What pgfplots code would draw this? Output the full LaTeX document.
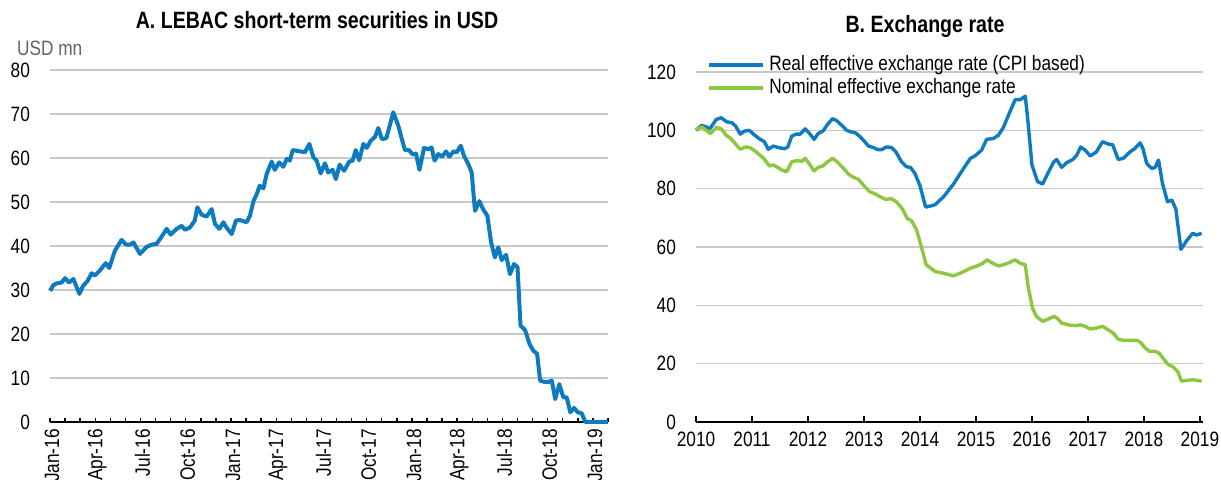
\documentclass[border=0pt]{standalone}
\usepackage{pgfplots}
\pgfplotsset{compat=1.18}
\usepackage{fontspec}
\setmainfont{Liberation Sans}[FakeStretch=0.83]
\definecolor{oblue}{RGB}{14,122,192}
\definecolor{ogreen}{RGB}{141,198,63}
\definecolor{ogrid}{RGB}{200,200,200}
\definecolor{ogray}{RGB}{100,100,100}
\begin{document}
\begin{tikzpicture}
\useasboundingbox (0,0) rectangle (610.5pt,240pt);
\pgfplotsset{
  common/.style={
    scale only axis, clip=false,
    /pgf/number format/assume math mode=true,
    /pgf/number format/1000 sep={},
    font=\fontsize{10.4}{12}\selectfont,
    ticklabel style={font=\fontsize{10.4}{12}\selectfont},
    axis x line*=bottom, axis y line*=left,
    y axis line style={draw=none},
    x axis line style={line width=0.9pt, black},
    ytick style={draw=none},
    tick align=inside,
    xtick style={line width=0.7pt, black},
    ymajorgrids, grid style={ogrid, line width=0.8pt},
    yticklabel style={xshift=-6.5pt},
    title style={font=\fontsize{11.8}{13}\selectfont\bfseries, anchor=center},
  }
}
% Panel A
\begin{axis}[common,
  at={(25pt,29pt)}, anchor=south west,
  width=279pt, height=176pt,
  xmin=0, xmax=37, ymin=0, ymax=80,
  ytick={0,10,...,80},
  xtick={0,3,...,36},
  xticklabels={Jan-16,Apr-16,Jul-16,Oct-16,Jan-17,Apr-17,Jul-17,Oct-17,Jan-18,Apr-18,Jul-18,Oct-18,Jan-19},
  minor xtick={0,...,37},
  major tick length=2.2pt, minor tick length=2.2pt,
  minor tick style={line width=0.7pt, black},
  xticklabel style={rotate=90, anchor=east, yshift=-1pt},
  title={A. LEBAC short-term securities in USD},
  title style={at={(axis description cs:0.4785,1.108)}},
]
\addplot[oblue, line width=2pt, line join=round] table {
0 29.8
0.22 31.1
0.44 31.5
0.77 31.7
1.0 32.7
1.26 31.7
1.55 32.5
1.95 29.1
2.2 31.0
2.48 32.0
2.76 33.8
2.98 33.3
3.3 34.4
3.7 36.1
3.93 35.0
4.3 38.9
4.75 41.4
5.04 40.3
5.3 40.3
5.53 40.8
5.97 38.2
6.4 39.8
6.74 40.3
7.07 40.5
7.3 41.6
7.74 43.9
8.0 42.6
8.4 43.9
8.73 44.6
8.95 43.7
9.28 44.2
9.6 45.8
9.77 48.8
10.06 47.1
10.39 46.7
10.72 48.4
10.94 45.0
11.23 43.9
11.5 45.4
11.7 44.2
12.05 42.7
12.33 45.8
12.6 45.9
13.04 45.4
13.26 46.9
13.5 50.3
13.7 51.7
13.9 53.7
14.15 53.1
14.37 56.4
14.7 59.2
14.9 57.3
15.2 59.0
15.47 58.0
15.7 59.8
15.9 59.4
16.1 61.8
16.6 61.5
16.9 61.3
17.2 63.2
17.46 60.2
17.68 59.4
17.95 56.5
18.23 58.8
18.45 56.7
18.74 57.3
18.96 55.2
19.2 58.5
19.5 57.1
19.85 59.2
20.07 59.4
20.27 61.8
20.5 59.5
20.78 63.2
21.0 62.3
21.26 63.9
21.55 64.8
21.77 66.8
22.0 64.3
22.3 64.5
22.5 67.0
22.76 70.4
23.1 67.3
23.3 64.7
23.54 61.8
23.8 61.8
24.05 60.8
24.27 61.0
24.5 57.3
24.8 62.3
25.09 62.0
25.3 62.4
25.5 59.4
25.75 60.9
26.0 60.3
26.26 61.5
26.48 60.3
26.75 61.5
26.97 61.3
27.23 62.8
27.45 60.5
27.74 58.6
27.96 56.7
28.18 48.0
28.47 50.2
28.74 48.2
29.0 46.9
29.25 40.8
29.5 37.4
29.73 39.7
29.95 36.8
30.24 38.0
30.5 33.6
30.77 35.9
31.0 35.2
31.2 21.9
31.5 20.9
31.8 17.7
32.05 16.2
32.3 15.5
32.5 9.4
32.8 9.1
33.04 9.1
33.27 9.4
33.5 5.2
33.77 8.6
34.04 5.6
34.26 5.6
34.5 2.2
34.75 3.2
35.0 2.2
35.25 2.0
35.5 0.0
37.0 0.0
};
\node[anchor=west, text=ogray, font=\fontsize{10.4}{12}\selectfont] at (axis description cs:-0.0717,1.0625) {USD mn};
\end{axis}
% Panel B
\begin{axis}[common,
  at={(348pt,29pt)}, anchor=south west,
  width=253.5pt, height=175pt,
  xmin=2010, xmax=2019.054, ymin=0, ymax=120,
  ytick={0,20,...,120},
  xtick={2010,...,2019},
  major tick length=3pt,
  xticklabel style={yshift=-1.5pt},
  title={B. Exchange rate},
  title style={at={(axis description cs:0.4517,1.097)}},
  legend cell align=left,
  legend style={draw=none, fill=none, inner sep=0pt, outer sep=0pt,
    column sep=1.5pt, font=\fontsize{10.4}{12}\selectfont,
    nodes={inner sep=1pt, text height=7.5pt, text depth=2pt},
    at={(axis description cs:0.0217,1.053)}, anchor=north west},
  legend image code/.code={\draw[#1, line width=1.7pt] (0pt,0pt) -- (27pt,0pt);},
]
\addplot[oblue, line width=1.7pt, line join=round] table {
2010.0 100.0
2010.1 101.7
2010.18 101.2
2010.25 100.6
2010.36 103.7
2010.45 104.3
2010.55 102.9
2010.64 102.6
2010.71 101.4
2010.79 98.7
2010.86 99.7
2010.95 100.0
2011.05 98.3
2011.14 97.0
2011.22 96.1
2011.29 93.5
2011.38 94.6
2011.47 94.1
2011.58 93.7
2011.64 94.3
2011.71 98.0
2011.79 98.7
2011.86 98.7
2011.95 100.5
2012.02 99.1
2012.11 96.9
2012.18 98.9
2012.27 99.8
2012.35 102.1
2012.44 104.0
2012.52 103.2
2012.62 101.4
2012.69 100.0
2012.76 99.5
2012.84 99.2
2012.92 98.0
2013.0 96.4
2013.08 94.6
2013.17 94.1
2013.24 93.4
2013.32 93.4
2013.4 94.3
2013.49 94.1
2013.57 92.6
2013.67 89.2
2013.76 87.5
2013.83 87.3
2013.91 85.2
2014.0 81.0
2014.1 73.7
2014.2 74.1
2014.27 74.5
2014.42 77.2
2014.6 81.6
2014.74 85.8
2014.9 90.4
2014.98 91.2
2015.1 93.2
2015.19 96.9
2015.31 97.2
2015.4 98.3
2015.49 101.0
2015.58 105.2
2015.7 110.5
2015.79 110.5
2015.88 111.7
2015.92 104.6
2016.0 88.1
2016.1 82.4
2016.19 81.6
2016.29 85.5
2016.39 89.2
2016.44 90.0
2016.53 87.3
2016.62 88.9
2016.73 90.0
2016.8 91.5
2016.87 94.3
2016.95 93.2
2017.04 91.2
2017.15 92.6
2017.26 96.1
2017.36 95.3
2017.44 95.1
2017.54 90.0
2017.63 90.4
2017.75 92.6
2017.84 93.8
2017.93 95.7
2017.98 93.8
2018.05 88.6
2018.14 86.9
2018.2 87.3
2018.26 89.8
2018.33 81.8
2018.42 75.5
2018.5 76.1
2018.57 72.9
2018.66 59.2
2018.76 62.1
2018.87 64.7
2018.94 64.1
2019.03 64.7
};
\addlegendentry{Real effective exchange rate (CPI based)}
\addplot[ogreen, line width=1.7pt, line join=round] table {
2010.0 100.0
2010.1 101.2
2010.18 100.0
2010.26 98.9
2010.36 101.0
2010.45 100.5
2010.54 98.3
2010.62 97.2
2010.7 95.5
2010.79 93.5
2010.88 94.3
2010.96 94.1
2011.05 93.0
2011.14 91.5
2011.21 90.4
2011.31 87.8
2011.38 88.1
2011.47 87.2
2011.53 86.4
2011.62 85.8
2011.71 89.2
2011.8 89.6
2011.89 89.4
2011.95 90.4
2012.02 88.6
2012.11 86.1
2012.18 87.3
2012.26 87.7
2012.35 89.2
2012.44 90.4
2012.52 89.2
2012.62 87.3
2012.72 85.0
2012.81 83.9
2012.9 83.2
2012.99 81.2
2013.1 79.0
2013.2 78.2
2013.29 77.2
2013.39 76.3
2013.48 76.6
2013.58 75.5
2013.69 72.9
2013.77 69.8
2013.85 69.0
2013.94 65.8
2014.04 59.0
2014.11 53.9
2014.27 51.6
2014.42 51.0
2014.6 50.1
2014.74 51.2
2014.9 52.7
2015.02 53.5
2015.12 54.4
2015.2 55.6
2015.3 54.4
2015.4 53.5
2015.49 53.9
2015.6 54.7
2015.7 55.6
2015.79 54.4
2015.88 53.9
2015.93 46.5
2016.01 39.0
2016.08 36.2
2016.19 34.5
2016.29 35.3
2016.39 36.2
2016.45 35.6
2016.53 33.9
2016.65 33.3
2016.77 33.0
2016.86 33.3
2016.95 32.8
2017.04 31.9
2017.15 32.2
2017.26 32.8
2017.36 31.6
2017.45 30.5
2017.54 28.4
2017.63 28.0
2017.75 28.0
2017.87 28.0
2017.94 27.3
2018.02 25.4
2018.1 24.2
2018.2 24.2
2018.27 23.6
2018.36 21.4
2018.43 19.7
2018.52 18.9
2018.6 17.4
2018.67 14.0
2018.79 14.3
2018.87 14.5
2018.94 14.3
2019.03 14.0
};
\addlegendentry{Nominal effective exchange rate}
\end{axis}
\end{tikzpicture}
\end{document}
